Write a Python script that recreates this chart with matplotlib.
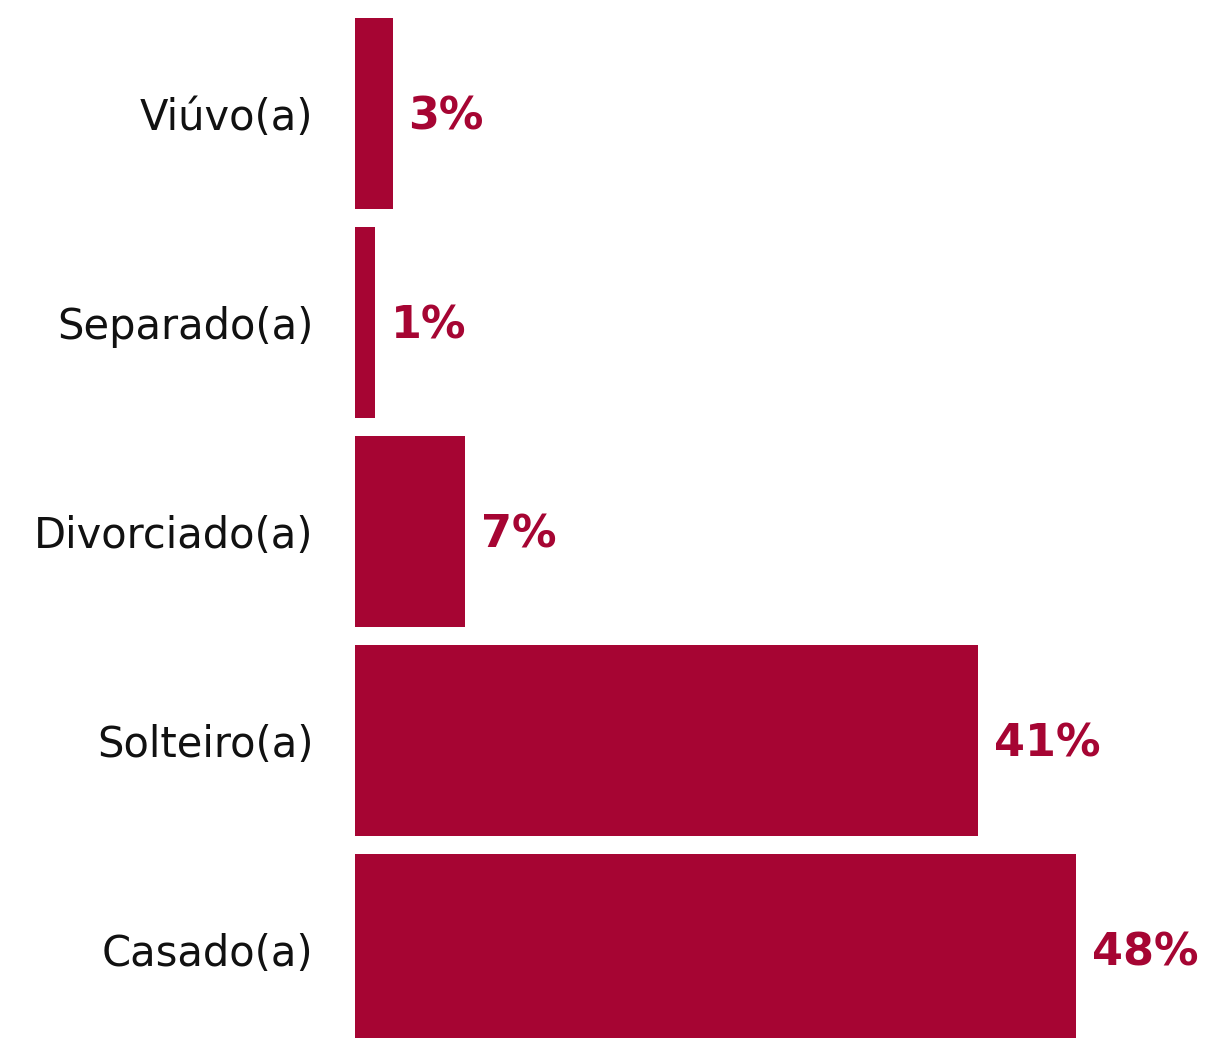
import matplotlib
matplotlib.use("Agg")
import matplotlib.pyplot as plt

categories = ["Casado(a)", "Solteiro(a)", "Divorciado(a)", "Separado(a)", "Viúvo(a)"]
values = [48.0, 41.5, 7.3, 1.3, 2.5]
labels = ["48%", "41%", "7%", "1%", "3%"]

color = "#A60533"

fig = plt.figure(figsize=(12.10, 10.38), dpi=100)
ax = fig.add_axes([355/1210, 0, (1210-355)/1210, 1])
ypos = list(range(len(categories)))
ax.barh(ypos, values, height=0.914, color=color)
ax.set_xlim(0, (1210-355)/15.02)
ax.set_ylim(-0.4234, 4.543)
ax.set_yticks(ypos)
ax.set_yticklabels(categories, fontsize=30, family="DejaVu Sans", color="#111111")
ax.tick_params(axis="y", length=0, pad=30)
ax.set_xticks([])
for s in ax.spines.values():
    s.set_visible(False)
for y, v, lab in zip(ypos, values, labels):
    ax.annotate(lab, (v, y), xytext=(11.5, -2.5), textcoords="offset points",
                ha="left", va="center", fontsize=32, fontweight="bold",
                color=color, family="DejaVu Sans")
fig.savefig("out.png", dpi=100)
